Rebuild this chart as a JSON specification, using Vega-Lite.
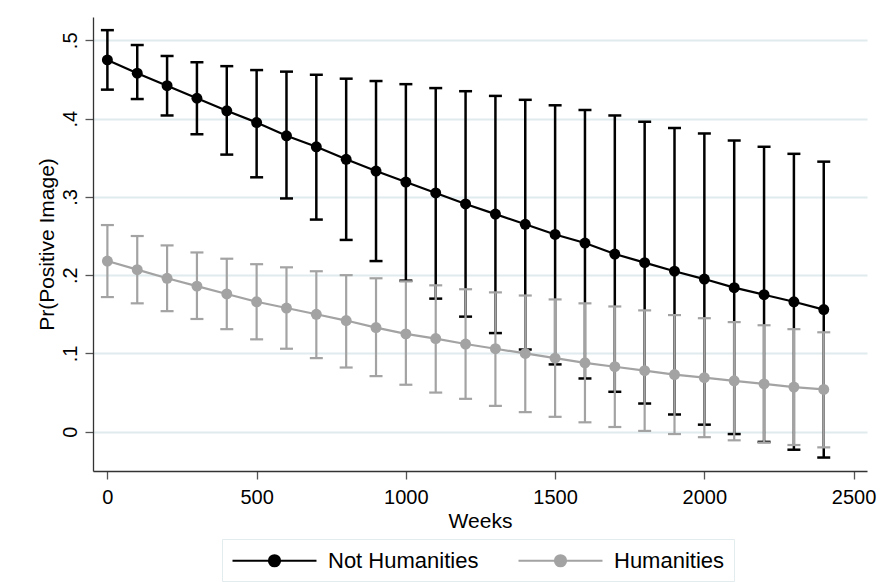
{
  "$schema": "https://vega.github.io/schema/vega-lite/v6.json",
  "width": 774,
  "height": 454,
  "autosize": {"type": "none"},
  "padding": {"left": 93, "top": 17, "right": 19, "bottom": 111},
  "background": "#ffffff",
  "data": {
    "values": [
      {"weeks": 0, "group": "Not Humanities", "mean": 0.475, "lo": 0.437, "hi": 0.513},
      {"weeks": 100, "group": "Not Humanities", "mean": 0.458, "lo": 0.425, "hi": 0.494},
      {"weeks": 200, "group": "Not Humanities", "mean": 0.442, "lo": 0.404, "hi": 0.480},
      {"weeks": 300, "group": "Not Humanities", "mean": 0.426, "lo": 0.380, "hi": 0.472},
      {"weeks": 400, "group": "Not Humanities", "mean": 0.410, "lo": 0.354, "hi": 0.467},
      {"weeks": 500, "group": "Not Humanities", "mean": 0.395, "lo": 0.325, "hi": 0.462},
      {"weeks": 600, "group": "Not Humanities", "mean": 0.378, "lo": 0.298, "hi": 0.460},
      {"weeks": 700, "group": "Not Humanities", "mean": 0.364, "lo": 0.271, "hi": 0.456},
      {"weeks": 800, "group": "Not Humanities", "mean": 0.348, "lo": 0.245, "hi": 0.451},
      {"weeks": 900, "group": "Not Humanities", "mean": 0.333, "lo": 0.218, "hi": 0.448},
      {"weeks": 1000, "group": "Not Humanities", "mean": 0.319, "lo": 0.193, "hi": 0.444},
      {"weeks": 1100, "group": "Not Humanities", "mean": 0.305, "lo": 0.170, "hi": 0.439},
      {"weeks": 1200, "group": "Not Humanities", "mean": 0.291, "lo": 0.147, "hi": 0.435},
      {"weeks": 1300, "group": "Not Humanities", "mean": 0.278, "lo": 0.126, "hi": 0.429},
      {"weeks": 1400, "group": "Not Humanities", "mean": 0.265, "lo": 0.105, "hi": 0.424},
      {"weeks": 1500, "group": "Not Humanities", "mean": 0.252, "lo": 0.086, "hi": 0.417},
      {"weeks": 1600, "group": "Not Humanities", "mean": 0.241, "lo": 0.068, "hi": 0.411},
      {"weeks": 1700, "group": "Not Humanities", "mean": 0.227, "lo": 0.051, "hi": 0.404},
      {"weeks": 1800, "group": "Not Humanities", "mean": 0.216, "lo": 0.036, "hi": 0.396},
      {"weeks": 1900, "group": "Not Humanities", "mean": 0.205, "lo": 0.022, "hi": 0.388},
      {"weeks": 2000, "group": "Not Humanities", "mean": 0.195, "lo": 0.009, "hi": 0.381},
      {"weeks": 2100, "group": "Not Humanities", "mean": 0.184, "lo": -0.003, "hi": 0.372},
      {"weeks": 2200, "group": "Not Humanities", "mean": 0.175, "lo": -0.013, "hi": 0.364},
      {"weeks": 2300, "group": "Not Humanities", "mean": 0.166, "lo": -0.023, "hi": 0.355},
      {"weeks": 2400, "group": "Not Humanities", "mean": 0.156, "lo": -0.033, "hi": 0.345},
      {"weeks": 0, "group": "Humanities", "mean": 0.218, "lo": 0.172, "hi": 0.264},
      {"weeks": 100, "group": "Humanities", "mean": 0.207, "lo": 0.164, "hi": 0.250},
      {"weeks": 200, "group": "Humanities", "mean": 0.196, "lo": 0.154, "hi": 0.238},
      {"weeks": 300, "group": "Humanities", "mean": 0.186, "lo": 0.144, "hi": 0.229},
      {"weeks": 400, "group": "Humanities", "mean": 0.176, "lo": 0.131, "hi": 0.221},
      {"weeks": 500, "group": "Humanities", "mean": 0.166, "lo": 0.118, "hi": 0.214},
      {"weeks": 600, "group": "Humanities", "mean": 0.158, "lo": 0.106, "hi": 0.210},
      {"weeks": 700, "group": "Humanities", "mean": 0.150, "lo": 0.094, "hi": 0.205},
      {"weeks": 800, "group": "Humanities", "mean": 0.142, "lo": 0.082, "hi": 0.200},
      {"weeks": 900, "group": "Humanities", "mean": 0.133, "lo": 0.071, "hi": 0.196},
      {"weeks": 1000, "group": "Humanities", "mean": 0.125, "lo": 0.060, "hi": 0.192},
      {"weeks": 1100, "group": "Humanities", "mean": 0.119, "lo": 0.050, "hi": 0.187},
      {"weeks": 1200, "group": "Humanities", "mean": 0.112, "lo": 0.042, "hi": 0.182},
      {"weeks": 1300, "group": "Humanities", "mean": 0.106, "lo": 0.033, "hi": 0.178},
      {"weeks": 1400, "group": "Humanities", "mean": 0.100, "lo": 0.025, "hi": 0.174},
      {"weeks": 1500, "group": "Humanities", "mean": 0.094, "lo": 0.019, "hi": 0.169},
      {"weeks": 1600, "group": "Humanities", "mean": 0.088, "lo": 0.012, "hi": 0.164},
      {"weeks": 1700, "group": "Humanities", "mean": 0.083, "lo": 0.006, "hi": 0.160},
      {"weeks": 1800, "group": "Humanities", "mean": 0.078, "lo": 0.001, "hi": 0.155},
      {"weeks": 1900, "group": "Humanities", "mean": 0.073, "lo": -0.003, "hi": 0.149},
      {"weeks": 2000, "group": "Humanities", "mean": 0.069, "lo": -0.007, "hi": 0.145},
      {"weeks": 2100, "group": "Humanities", "mean": 0.065, "lo": -0.011, "hi": 0.140},
      {"weeks": 2200, "group": "Humanities", "mean": 0.061, "lo": -0.014, "hi": 0.136},
      {"weeks": 2300, "group": "Humanities", "mean": 0.057, "lo": -0.017, "hi": 0.131},
      {"weeks": 2400, "group": "Humanities", "mean": 0.054, "lo": -0.020, "hi": 0.127}
    ]
  },
  "encoding": {
    "x": {
      "field": "weeks", "type": "quantitative",
      "scale": {"domain": [-48.2, 2544.9], "nice": false, "zero": false},
      "axis": {"title": "Weeks", "values": [0, 500, 1000, 1500, 2000, 2500], "format": "d", "grid": false,
               "labelPadding": 8, "titlePadding": 3}
    },
    "color": {
      "field": "group", "type": "nominal",
      "scale": {"domain": ["Not Humanities", "Humanities"], "range": ["#000000", "#a3a3a3"]},
      "legend": {"title": null}
    }
  },
  "layer": [
    {
      "transform": [{"filter": "datum.group == 'Not Humanities'"}],
      "layer": [
        {"mark": {"type": "rule", "strokeWidth": 2.5},
         "encoding": {"y": {"field": "lo", "type": "quantitative"}, "y2": {"field": "hi"}}},
        {"mark": {"type": "tick", "orient": "horizontal", "size": 13, "thickness": 2.5, "opacity": 1},
         "encoding": {"y": {"field": "lo", "type": "quantitative"}}},
        {"mark": {"type": "tick", "orient": "horizontal", "size": 13, "thickness": 2.5, "opacity": 1},
         "encoding": {"y": {"field": "hi", "type": "quantitative"}}}
      ]
    },
    {
      "transform": [{"filter": "datum.group == 'Humanities'"}],
      "layer": [
        {"mark": {"type": "rule", "strokeWidth": 2.2},
         "encoding": {"y": {"field": "lo", "type": "quantitative"}, "y2": {"field": "hi"}}},
        {"mark": {"type": "tick", "orient": "horizontal", "size": 13, "thickness": 2.2, "opacity": 1},
         "encoding": {"y": {"field": "lo", "type": "quantitative"}}},
        {"mark": {"type": "tick", "orient": "horizontal", "size": 13, "thickness": 2.2, "opacity": 1},
         "encoding": {"y": {"field": "hi", "type": "quantitative"}}}
      ]
    },
    {
      "transform": [{"filter": "datum.group == 'Not Humanities'"}],
      "layer": [
        {"mark": {"type": "line", "strokeWidth": 2.2},
         "encoding": {"y": {"field": "mean", "type": "quantitative"}}},
        {"mark": {"type": "point", "filled": true, "size": 120, "opacity": 1},
         "encoding": {"y": {"field": "mean", "type": "quantitative"}}}
      ]
    },
    {
      "transform": [{"filter": "datum.group == 'Humanities'"}],
      "layer": [
        {"mark": {"type": "line", "strokeWidth": 2.2},
         "encoding": {"y": {"field": "mean", "type": "quantitative"}}},
        {"mark": {"type": "point", "filled": true, "size": 120, "opacity": 1},
         "encoding": {
           "y": {
             "field": "mean", "type": "quantitative",
             "scale": {"domain": [-0.0502, 0.5298], "nice": false, "zero": false},
             "axis": {"title": "Pr(Positive Image)", "values": [0, 0.1, 0.2, 0.3, 0.4, 0.5],
                      "labelExpr": "datum.value == 0 ? '0' : replace(format(datum.value, '.1f'), '0.', '.')",
                      "labelAngle": -90, "labelPadding": 5, "titlePadding": 3, "grid": true}
           }
         }}
      ]
    }
  ],
  "resolve": {"scale": {"y": "shared"}},
  "config": {
    "view": {"stroke": null},
    "font": "Liberation Sans",
    "axis": {
      "labelFont": "Liberation Sans", "titleFont": "Liberation Sans",
      "labelFontSize": 20, "titleFontSize": 21, "titleFontWeight": "normal",
      "labelColor": "#000000", "titleColor": "#000000",
      "domainColor": "#333333", "domainWidth": 1.3,
      "tickColor": "#555555", "tickSize": 8, "tickWidth": 1.3,
      "gridColor": "#e0ebee", "gridWidth": 1.8,
      "labelOverlap": false, "labelFlush": false
    },
    "axisY": {"grid": true},
    "axisX": {"grid": false},
    "legend": {
      "orient": "none", "legendX": 129, "legendY": 522,
      "direction": "horizontal",
      "fillColor": "#ffffff", "strokeColor": "#e2ebed",
      "padding": 9, "columnPadding": 35,
      "labelFont": "Liberation Sans", "labelFontSize": 22, "labelColor": "#000000",
      "labelLimit": 400, "labelOffset": 72,
      "symbolType": "M-1,0H6.636M2.318,0A0.5,0.5,0,1,0,3.318,0A0.5,0.5,0,1,0,2.318,0Z",
      "symbolSize": 484, "symbolStrokeWidth": 2.2, "symbolOpacity": 1
    }
  }
}
